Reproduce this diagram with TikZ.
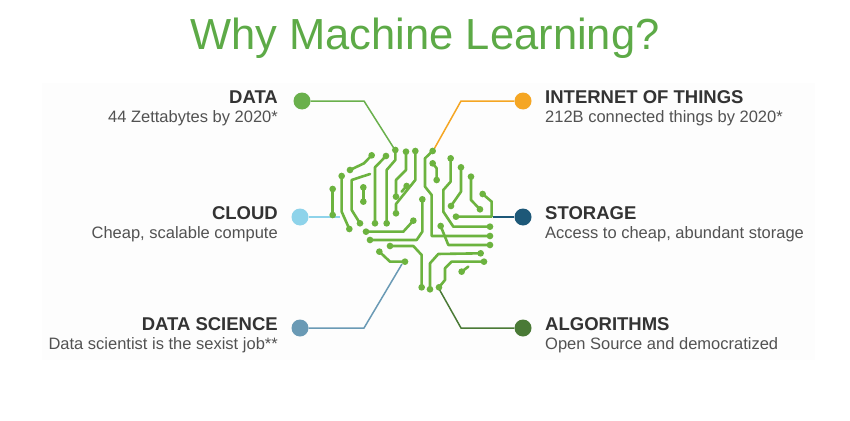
\documentclass[tikz,border=0pt]{standalone}
\usepackage{fontspec}
\setmainfont{Liberation Sans}
\definecolor{ttl}{HTML}{5DAA47}
\definecolor{brn}{HTML}{6CB33F}
\definecolor{cdata}{HTML}{6AB04C}
\definecolor{ciot}{HTML}{F5A623}
\definecolor{ccloud}{HTML}{8ED3EA}
\definecolor{cstor}{HTML}{1D5878}
\definecolor{cds}{HTML}{6A9AB5}
\definecolor{calg}{HTML}{4A7A36}
\definecolor{txt}{HTML}{333333}
\tikzset{
 head/.style={font=\fontsize{18.5}{20}\selectfont\bfseries, text=txt, inner sep=0pt},
 sub/.style={font=\fontsize{16.5}{18}\selectfont, text=txt!85, inner sep=0pt},
 bigdot/.style={circle, minimum size=17pt, inner sep=0pt},
 link/.style={line width=1.5pt},
 trace/.style={brn, line width=2.6pt, line join=round, line cap=round},
}
\newcommand{\tr}[1]{\draw[trace] #1;}
\newcommand{\pd}[1]{\fill[brn] #1 circle (10);}
\begin{document}
\begin{tikzpicture}[x=1pt,y=-1pt]
\useasboundingbox (0,0) rectangle (850,420);
\fill[black!0.8] (42,83) rectangle (815,360);
\node[text=ttl, font=\fontsize{43.5}{46}\selectfont, inner sep=0pt] (title) at (425,38) {Why Machine Learning?};
% dots
\node[bigdot, fill=cdata] (d1) at (302,101) {};
\node[bigdot, fill=ciot] (d2) at (523,101) {};
\node[bigdot, fill=ccloud] (d3) at (300,217) {};
\node[bigdot, fill=cstor] (d4) at (523,217) {};
\node[bigdot, fill=cds] (d5) at (300,328) {};
\node[bigdot, fill=calg] (d6) at (523,328) {};
% labels
\node[head, anchor=base east] (l1) at (278,103) {DATA};
\node[sub, anchor=base east] (s1) at (278,122) {44 Zettabytes by 2020*};
\node[head, anchor=base east] (l3) at (278,219) {CLOUD};
\node[sub, anchor=base east] (s3) at (278,238) {Cheap, scalable compute};
\node[head, anchor=base east] (l5) at (278,330) {DATA SCIENCE};
\node[sub, anchor=base east] (s5) at (278,349) {Data scientist is the sexist job**};
\node[head, anchor=base west] (l2) at (545,103) {INTERNET OF THINGS};
\node[sub, anchor=base west] (s2) at (545,122) {212B connected things by 2020*};
\node[head, anchor=base west] (l4) at (545,219) {STORAGE};
\node[sub, anchor=base west] (s4) at (545,238) {Access to cheap, abundant storage};
\node[head, anchor=base west] (l6) at (545,330) {ALGORITHMS};
\node[sub, anchor=base west] (s6) at (545,349) {Open Source and democratized};
% connection points
\coordinate (c1) at (395,150);
\coordinate (c2) at (433,151);
\coordinate (c3) at (340,217);
\coordinate (c4) at (493,217);
\coordinate (c5) at (402,264);
\coordinate (c6) at (438,287);
\draw[link, cdata] (d1) -- (364,101) -- (c1);
\draw[link, ciot] (d2) -- (461,101) -- (c2);
\draw[link, ccloud] (d3) -- (c3);
\draw[link, cstor] (d4) -- (c4);
\draw[link, cds] (d5) -- (364,328) -- (c5);
\draw[link, calg] (d6) -- (461,328) -- (c6);
% brain
\begin{scope}[shift={(290,80)}, x=0.3333pt, y=-0.3333pt]
\tr{(316,210)--(316,240)--(290,270)--(290,430)} \pd{(316,210)}\pd{(290,430)}
\tr{(348,215)--(348,270)--(318,300)--(318,350)} \pd{(348,215)}\pd{(318,350)}
\tr{(350,318)--(335,335)} \pd{(350,318)}
\tr{(376,213)--(376,300)--(318,372)--(318,400)} \pd{(376,213)}\pd{(318,400)}
\tr{(288,228)--(255,262)--(255,430)} \pd{(288,228)}\pd{(255,430)}
\tr{(245,226)--(222,250)--(180,270)} \pd{(245,226)}\pd{(180,270)}
\tr{(155,288)--(155,395)--(178,447)} \pd{(155,288)}\pd{(178,447)}
\tr{(240,282)--(185,300)--(185,390)--(210,430)} \pd{(210,430)}
\tr{(220,322)--(220,365)} \pd{(220,322)}\pd{(220,365)}
\tr{(128,327)--(128,405)} \pd{(128,327)}\pd{(128,405)}
\tr{(370,422)--(340,455)--(228,455)} \pd{(370,422)}\pd{(228,455)}
\tr{(397,358)--(397,455)--(380,480)--(240,480)} \pd{(397,358)}\pd{(240,480)}
\tr{(268,515)--(300,545)--(345,545)} \pd{(268,515)}\pd{(345,545)}
\tr{(300,498)--(370,498)--(395,525)--(395,622)} \pd{(300,498)}\pd{(395,622)}
\tr{(420,628)--(420,550)--(445,522)--(572,520)} \pd{(420,628)}\pd{(572,520)}
\tr{(447,622)--(465,600)--(465,565)--(485,545)--(582,545)} \pd{(447,622)}\pd{(582,545)}
\tr{(515,575)--(535,560)} \pd{(515,575)}
% right hemisphere
\tr{(428,213)--(405,235)--(405,320)--(425,345)--(425,468)--(600,468)} \pd{(428,213)}\pd{(600,468)}
\tr{(428,250)--(440,265)--(440,300)} \pd{(428,250)}\pd{(440,300)}
\tr{(482,235)--(482,305)--(460,330)--(460,395)--(490,440)--(600,440)} \pd{(482,235)}\pd{(600,440)}
\tr{(452,438)--(475,495)--(600,495)} \pd{(452,438)}\pd{(600,495)}
\tr{(513,262)--(513,335)--(483,378)} \pd{(513,262)}\pd{(483,378)}
\tr{(543,290)--(543,360)--(570,388)} \pd{(543,290)}\pd{(570,388)}
\tr{(578,342)--(605,365)--(605,410)--(498,410)} \pd{(578,342)}\pd{(498,410)}
\end{scope}
\end{tikzpicture}
\end{document}
